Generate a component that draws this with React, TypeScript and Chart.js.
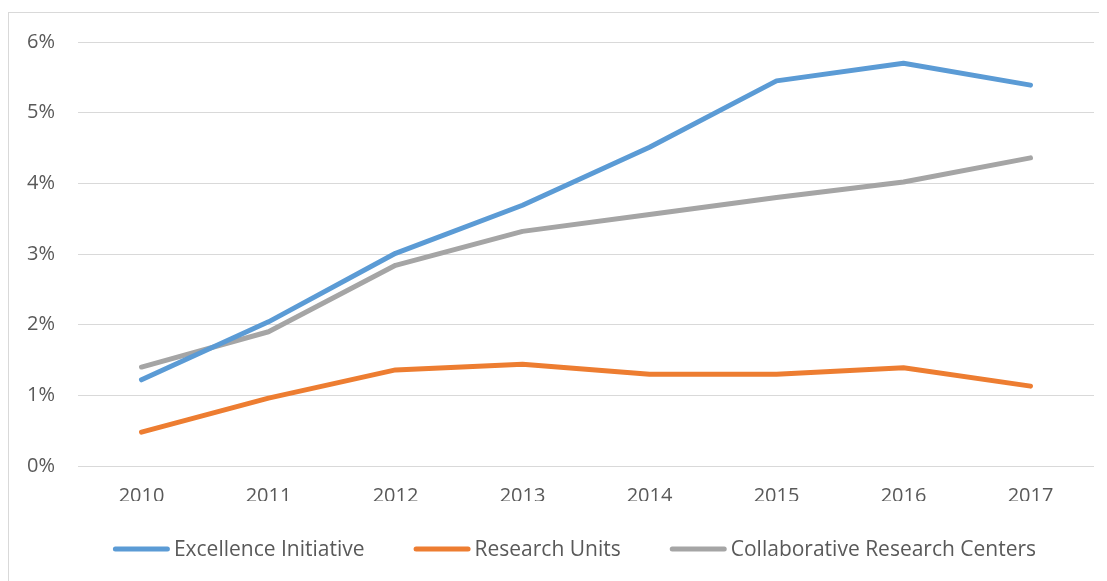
import React, { useEffect, useRef } from "react";
import { Chart, registerables } from "chart.js";

Chart.register(...registerables);

const years = ["2010", "2011", "2012", "2013", "2014", "2015", "2016", "2017"];
const excellenceInitiative = [1.22, 2.04, 3.01, 3.69, 4.51, 5.45, 5.70, 5.39];
const researchUnits = [0.48, 0.96, 1.36, 1.44, 1.30, 1.30, 1.39, 1.13];
const collaborativeCenters = [1.40, 1.90, 2.84, 3.32, 3.56, 3.80, 4.02, 4.36];
const seriesNames = ["Excellence Initiative", "Research Units", "Collaborative Research Centers"];
const seriesColors = ["#5B9BD5", "#ED7D31", "#A5A5A5"];
const yTicks = [0, 1, 2, 3, 4, 5, 6];

const FONT = "'Open Sans', 'DejaVu Sans', sans-serif";
const TEXT_COLOR = "#595959";

const customLegend = {
  id: "customLegend",
  afterDraw(chart: any) {
    const ctx = chart.ctx;
    const cx = 565.5;
    const cy = 536;
    const lineLen = 57;
    const gapText = 4;
    const gapItem = 49;
    ctx.save();
    ctx.font = `21px ${FONT}`;
    const items = chart.data.datasets.map((ds: any) => ({
      label: ds.label,
      color: ds.borderColor,
      w: lineLen + gapText + ctx.measureText(ds.label).width,
    }));
    const total = items.reduce((s: number, it: any) => s + it.w, 0) + gapItem * (items.length - 1);
    let x = cx - total / 2;
    items.forEach((it: any) => {
      ctx.strokeStyle = it.color;
      ctx.lineWidth = 5;
      ctx.lineCap = "round";
      ctx.beginPath();
      ctx.moveTo(x + 2.5, cy);
      ctx.lineTo(x + lineLen - 2.5, cy);
      ctx.stroke();
      ctx.fillStyle = TEXT_COLOR;
      ctx.textAlign = "left";
      ctx.textBaseline = "middle";
      ctx.fillText(it.label, x + lineLen + gapText, cy + 1);
      x += it.w + gapItem;
    });
    ctx.restore();
  },
};

export default function App() {
  const ref = useRef<HTMLCanvasElement | null>(null);

  useEffect(() => {
    document.documentElement.style.overflow = "hidden";
    document.body.style.overflow = "hidden";
    if (!ref.current) return;
    const data = [excellenceInitiative, researchUnits, collaborativeCenters];
    const chart = new Chart(ref.current, {
      type: "line",
      data: {
        labels: years,
        datasets: data.map((d, i) => ({
          label: seriesNames[i],
          data: d,
          borderColor: seriesColors[i],
          backgroundColor: seriesColors[i],
          borderWidth: 5,
          borderCapStyle: "round",
          borderJoinStyle: "round",
          pointRadius: 0,
          pointHoverRadius: 0,
          tension: 0,
          fill: false,
        })),
      },
      options: {
        animation: false,
        responsive: false,
        devicePixelRatio: 1,
        layout: { padding: { left: 0, right: 13, top: 29, bottom: 80 } },
        plugins: {
          legend: { display: false },
          tooltip: { enabled: false },
        },
        scales: {
          x: {
            offset: true,
            grid: { display: false, drawTicks: false },
            border: { display: false },
            ticks: {
              font: { family: FONT, size: 20 },
              color: TEXT_COLOR,
              padding: 18,
              maxRotation: 0,
            },
            afterFit(axis: any) {
              axis.height = 35;
            },
          },
          y: {
            min: 0,
            max: 6,
            grid: { color: "#D9D9D9", lineWidth: 1, drawTicks: false },
            border: { display: false },
            afterBuildTicks(axis: any) {
              axis.ticks = yTicks.map((v) => ({ value: v }));
            },
            ticks: {
              font: { family: FONT, size: 20 },
              color: TEXT_COLOR,
              padding: 23,
              callback: (v: any) => `${v}%`,
            },
            afterFit(axis: any) {
              axis.width = 69;
              axis.paddingTop = 0;
              axis.paddingBottom = 0;
            },
          },
        },
      },
      plugins: [customLegend],
    } as any);
    return () => chart.destroy();
  }, []);

  return (
    <div style={{ paddingTop: 4 }}>
      <div
        style={{
          borderTop: "1px solid #D9D9D9",
          borderLeft: "1px solid #D9D9D9",
          width: 1098,
          height: 568,
        }}
      >
        <canvas ref={ref} width={1098} height={568} style={{ display: "block" }} />
      </div>
    </div>
  );
}
